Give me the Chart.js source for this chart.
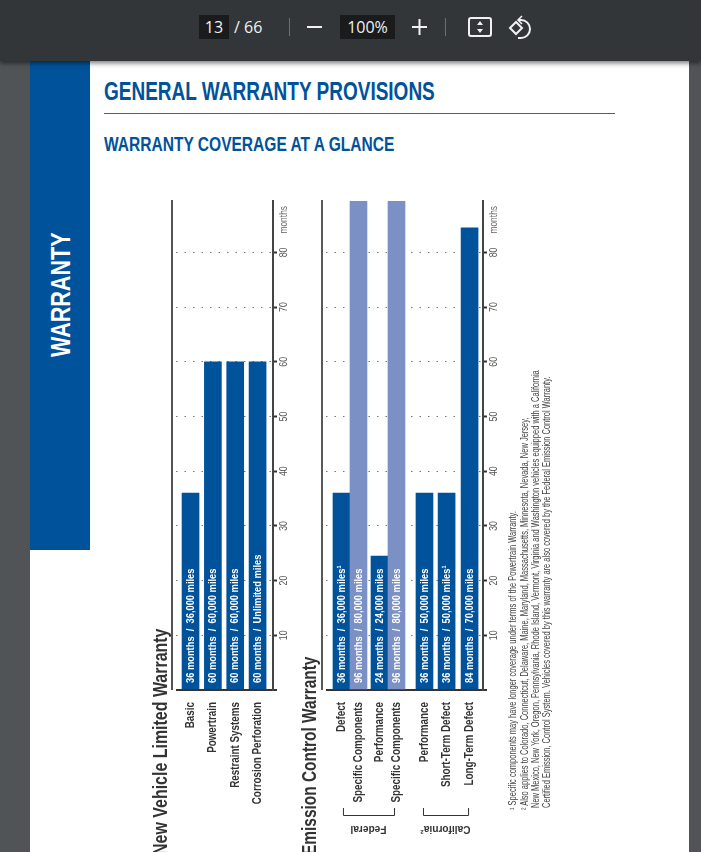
<!DOCTYPE html>
<html>
<head>
<meta charset="utf-8">
<title>Warranty coverage at a glance</title>
<script src="https://cdn.jsdelivr.net/npm/chart.js@4/dist/chart.umd.min.js"></script>
<style>
    html, body { margin: 0; padding: 0; }
    body { width: 701px; height: 852px; position: relative; overflow: hidden; background: #505457; font-family: "Liberation Sans", sans-serif; }
    .toolbar { position: absolute; left: 0; top: 0; width: 701px; height: 61px; background: #323639; box-shadow: 0 2px 5px rgba(0, 0, 0, 0.55); z-index: 5; font-family: "Open Sans", sans-serif; color: #f1f1f1; font-size: 16px; }
    .toolbar div, .toolbar svg { position: absolute; }
    .numbox { background: #191b1c; height: 24px; line-height: 24px; text-align: center; top: 15px; }
    .sep { width: 1px; height: 18px; top: 18px; background: #6c7073; }
    .page { position: absolute; left: 30px; top: 61px; width: 659px; height: 791px; background: #fff; }
    .sidebar { position: absolute; left: 30px; top: 61px; width: 60px; height: 489px; background: #00529b; }
    .rot { position: absolute; transform-origin: 0 0; white-space: nowrap; }
    .heading { position: absolute; left: 104px; color: #00529b; font-weight: bold; white-space: nowrap; transform-origin: 0 0; }
    .rule { position: absolute; left: 104px; top: 113px; width: 511px; height: 1px; background: #1f6ac0; }
    canvas { position: absolute; }
    .panel-title { font-weight: bold; font-size: 21px; color: #333; line-height: 24px; }
    .note { font-size: 10px; color: #444; line-height: 11px; transform: rotate(-90deg) scaleX(0.75); }
</style>
</head>
<body>
<div class="page"></div>
<div class="sidebar"></div>
<div class="rot" style="left:47px;top:357px;color:#fff;font-weight:bold;font-size:28px;line-height:28px;transform:rotate(-90deg) scaleX(0.77);">WARRANTY</div>
<div class="heading" style="top:78px;font-size:25px;line-height:26px;transform:scaleX(0.76);">GENERAL WARRANTY PROVISIONS</div>
<div class="rule"></div>
<div class="heading" style="top:132px;font-size:21px;line-height:23px;transform:scaleX(0.74);">WARRANTY COVERAGE AT A GLANCE</div>

<div class="toolbar">
    <div class="numbox" style="left:199px;width:30px;">13</div>
    <div style="left:234px;top:15px;line-height:24px;">/ 66</div>
    <div class="sep" style="left:289px;"></div>
    <div style="left:307px;top:26px;width:15px;height:2px;background:#f1f1f1;"></div>
    <div class="numbox" style="left:340px;width:55px;">100%</div>
    <svg style="left:411px;top:18px;" width="17" height="18" viewBox="0 0 17 18"><path d="M8.5 1v16M1 9h15" stroke="#f1f1f1" stroke-width="2"/></svg>
    <div class="sep" style="left:445px;"></div>
    <svg style="left:468px;top:17px;" width="24" height="20" viewBox="0 0 24 20" fill="none" stroke="#f1f1f1" stroke-width="2"><rect x="1" y="1" width="22" height="18" rx="2"/><path d="M12 4l-3 4h6zM12 16l-3-4h6z" fill="#f1f1f1" stroke="none"/></svg>
    <svg style="left:508px;top:15px;" width="24" height="24" viewBox="0 0 24 24" fill="none" stroke="#f1f1f1" stroke-width="2"><path d="M2 13l6-6 6 6-6 6z"/><path d="M10 5h3a9 9 0 0 1 0 18h-3"/><path d="M14 1l-4 4 4 4" stroke-width="1.6"/></svg>
</div>

<canvas id="chartVehicle"></canvas>
<canvas id="chartEmission"></canvas>

<div class="rot panel-title" style="left:148px;top:855px;transform:rotate(-90deg) scaleX(0.76);">New Vehicle Limited Warranty</div>
<div class="rot panel-title" style="left:297px;top:855px;transform:rotate(-90deg) scaleX(0.735);">Emission Control Warranty</div>

<div class="rot note" style="left:507px;top:810px;">¹ Specific components may have longer coverage under terms of the Powertrain Warranty.</div>
<div class="rot note" style="left:519px;top:810px;">² Also applies to Colorado, Connecticut, Delaware, Maine, Maryland, Massachusetts, Minnesota, Nevada, New Jersey,</div>
<div class="rot note" style="left:530px;top:808px;">New Mexico, New York, Oregon, Pennsylvania, Rhode Island, Vermont, Virginia and Washington vehicles equipped with a California</div>
<div class="rot note" style="left:541px;top:808px;">Certified Emission, Control System. Vehicles covered by this warranty are also covered by the Federal Emission Control Warranty.</div>

<script>
    // Datos (alturas tal como se ven, no como dice el rotulo)
    const vehicleCategories = ['Basic', 'Powertrain', 'Restraint Systems', 'Corrosion Perforation'];
    const vehicleMonths = [36, 60, 60, 60];
    const vehicleBarTexts = [
        '36 months  /  36,000 miles',
        '60 months  /  60,000 miles',
        '60 months  /  60,000 miles',
        '60 months  /  Unlimited miles'
    ];

    const emissionCategories = ['Defect', 'Specific Components', 'Performance', 'Specific Components', 'Performance', 'Short-Term Defect', 'Long-Term Defect'];
    const emissionMonths = [36, 96, 24.5, 96, 36, 36, 84.5];
    const emissionBarTexts = [
        '36 months  /  36,000 miles¹',
        '96 months  /  80,000 miles',
        '24 months  /  24,000 miles',
        '96 months  /  80,000 miles',
        '36 months  /  50,000 miles',
        '36 months  /  50,000 miles¹',
        '84 months  /  70,000 miles'
    ];
    const emissionGroups = ['Federal', 'California²'];

    const monthTicks = [10, 20, 30, 40, 50, 60, 70, 80];

    const BLUE = '#00529b';
    const LIGHT_BLUE = '#7b90c4';
    const TOP_MONTHS = 89.4;

    // No hay fuente narrow instalada: se comprime en horizontal
    function textoComprimido(ctx, text, x, y, angle, squeeze, font, color, align) {
        ctx.save();
        ctx.translate(x, y);
        ctx.rotate(angle);
        ctx.scale(squeeze, 1);
        ctx.font = font;
        ctx.fillStyle = color;
        ctx.textAlign = align;
        ctx.textBaseline = 'middle';
        ctx.fillText(text, 0, 0);
        ctx.restore();
    }

    const panelPlugin = {
        id: 'panelPlugin',
        afterDatasetsDraw(chart, args, opts) {
            const { ctx, chartArea, scales } = chart;
            const meta = chart.getDatasetMeta(0);
            const UP = -Math.PI / 2;

            ctx.save();
            // linea izquierda, separada del area del grafico
            ctx.strokeStyle = opts.leftColor;
            ctx.lineWidth = opts.leftWidth;
            ctx.beginPath();
            ctx.moveTo(chartArea.left - 4, chartArea.top - 1);
            ctx.lineTo(chartArea.left - 4, chartArea.bottom);
            ctx.stroke();

            meta.data.forEach((bar, idx) => {
                textoComprimido(ctx, opts.barTexts[idx], bar.x, chartArea.bottom - 7, UP, 0.81, 'bold 11.5px "Liberation Sans"', '#ffffff', 'left');
                textoComprimido(ctx, opts.categories[idx], bar.x, chartArea.bottom + 12, UP, 0.82, 'bold 12px "Liberation Sans"', '#333', 'right');
            });

            // etiquetas del eje de meses
            const labelX = chartArea.right + 11;
            monthTicks.forEach((m) => {
                textoComprimido(ctx, String(m), labelX, scales.y.getPixelForValue(m), UP, 0.8, '11px "Liberation Sans"', '#555', 'center');
            });
            textoComprimido(ctx, 'months', labelX, chartArea.top + 5, UP, 0.8, '10.5px "Liberation Sans"', '#666', 'right');

            // corchetes de grupo
            (opts.groups || []).forEach((group) => {
                const x0 = meta.data[group.from].x + group.inset[0];
                const x1 = meta.data[group.to].x + group.inset[1];
                const y = chartArea.bottom + 125;
                ctx.strokeStyle = '#333';
                ctx.lineWidth = 1;
                ctx.beginPath();
                ctx.moveTo(x0 + 0.5, y - 7);
                ctx.lineTo(x0 + 0.5, y + 0.5);
                ctx.lineTo(x1 + 0.5, y + 0.5);
                ctx.lineTo(x1 + 0.5, y - 7);
                ctx.stroke();
                textoComprimido(ctx, group.name, (x0 + x1) / 2, y + 14, Math.PI, 0.88, 'bold 11.5px "Liberation Sans"', '#333', 'center');
            });
            ctx.restore();
        }
    };

    function crearPanel(canvasId, box, cfg) {
        const canvas = document.getElementById(canvasId);
        canvas.style.left = box.left + 'px';
        canvas.style.top = box.top + 'px';
        canvas.width = box.width;
        canvas.height = box.height;

        return new Chart(canvas, {
            type: 'bar',
            data: {
                datasets: [{
                    data: cfg.months.map((m, i) => ({ x: cfg.slots[i], y: m })),
                    backgroundColor: cfg.months.map((m) => (m > TOP_MONTHS ? LIGHT_BLUE : BLUE)),
                    barThickness: 17
                }]
            },
            options: {
                responsive: false,
                animation: false,
                layout: {
                    padding: {
                        left: cfg.plotLeft - box.left,
                        right: 0,
                        top: 201 - box.top,
                        bottom: box.top + box.height - 690
                    }
                },
                plugins: {
                    legend: { display: false },
                    tooltip: { enabled: false },
                    panelPlugin: {
                        categories: cfg.categories,
                        barTexts: cfg.barTexts,
                        groups: cfg.groups,
                        leftColor: cfg.leftColor,
                        leftWidth: cfg.leftWidth
                    }
                },
                scales: {
                    x: {
                        type: 'linear',
                        display: false,
                        offset: false,
                        bounds: 'data',
                        min: cfg.xMin,
                        max: cfg.xMax,
                        grid: { display: false }
                    },
                    y: {
                        position: 'right',
                        min: 0,
                        max: TOP_MONTHS,
                        afterFit(axis) {
                            axis.width = box.left + box.width - cfg.plotRight;
                        },
                        afterBuildTicks(axis) {
                            axis.ticks = [{ value: 0 }].concat(monthTicks.map((m) => ({ value: m })));
                        },
                        grid: {
                            color: (c) => (c.tick && c.tick.value === 0 ? '#333' : '#777'),
                            lineWidth: (c) => (c.tick && c.tick.value === 0 ? 2 : 1),
                            tickLength: 4,
                            tickColor: '#333',
                            tickWidth: 2
                        },
                        border: {
                            display: true,
                            color: '#444',
                            width: 2,
                            dash: (c) => (c.tick && c.tick.value === 0 ? [] : [1.5, 7])
                        },
                        ticks: { display: false }
                    }
                }
            },
            plugins: [panelPlugin]
        });
    }

    crearPanel('chartVehicle', { left: 165, top: 190, width: 130, height: 630 }, {
        categories: vehicleCategories,
        months: vehicleMonths,
        barTexts: vehicleBarTexts,
        slots: [0, 1, 2, 3],
        xMin: -0.65,
        xMax: 3.69,
        plotLeft: 176,
        plotRight: 273,
        leftColor: '#555',
        leftWidth: 2
    });

    crearPanel('chartEmission', { left: 315, top: 190, width: 195, height: 660 }, {
        categories: emissionCategories,
        months: emissionMonths,
        barTexts: emissionBarTexts,
        slots: [0, 1, 2.235, 3.235, 4.88, 6.18, 7.53],
        xMin: -0.91,
        xMax: 8.32,
        plotLeft: 326,
        plotRight: 483,
        leftColor: '#222',
        leftWidth: 1.5,
        groups: [
            { name: emissionGroups[0], from: 0, to: 3, inset: [1.5, -2.5] },
            { name: emissionGroups[1], from: 4, to: 6, inset: [-1.5, -1.5] }
        ]
    });
</script>
</body>
</html>
